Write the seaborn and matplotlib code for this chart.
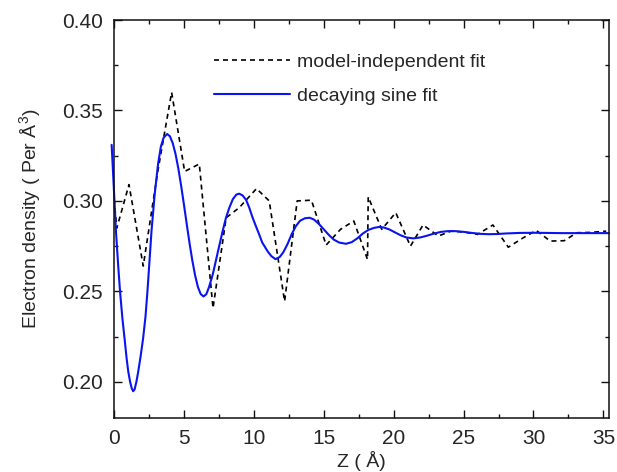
import numpy as np
import pandas as pd
import matplotlib
matplotlib.use("Agg")
import matplotlib.pyplot as plt
from matplotlib.ticker import MultipleLocator, FormatStrFormatter
import seaborn as sns

# model-independent fit (dashed)
z_mi = [0.0, 0.2, 1.07, 2.09, 3.1, 4.12, 5.05, 6.1, 7.08, 8.02, 8.96, 10.19,
        11.1, 12.2, 13.1, 14.12, 15.17, 16.2, 17.15, 18.13, 18.18, 19.15,
        20.15, 21.2, 22.1, 23.2, 24.1, 25.0, 26.0, 27.1, 28.2, 29.2, 30.2,
        31.2, 32.2, 33.1, 34.1, 35.2]
rho_mi = [0.301, 0.285, 0.309, 0.264, 0.315, 0.360, 0.3163, 0.3204, 0.2407,
          0.2907, 0.2963, 0.3068, 0.300, 0.2445, 0.300, 0.3004, 0.2756,
          0.2843, 0.2889, 0.2676, 0.3022, 0.2843, 0.2935, 0.275, 0.2867,
          0.2806, 0.2833, 0.2828, 0.2815, 0.2867, 0.2744, 0.2793, 0.2837,
          0.2778, 0.2780, 0.2824, 0.2826, 0.2833]

# decaying sine fit (solid blue)
z_ds = [-0.17, 0.0, 0.14, 0.3, 0.43, 0.6, 0.78, 0.9, 1.02, 1.15, 1.27, 1.37,
        1.47, 1.6, 1.73, 1.9, 2.08, 2.25, 2.39, 2.53, 2.68, 2.9, 3.15, 3.35,
        3.55, 3.8, 4.0, 4.2, 4.4, 4.6, 4.8, 5.0, 5.2, 5.4, 5.6, 5.8, 6.0,
        6.2, 6.4, 6.6, 6.8, 7.06, 7.3, 7.55, 7.77, 8.0, 8.25, 8.5, 8.75,
        8.96, 9.2, 9.45, 9.67, 9.9, 10.15, 10.38, 10.6, 10.8, 10.98, 11.25,
        11.55, 11.85, 12.1, 12.4, 12.7, 13.0, 13.3, 13.65, 13.99, 14.3,
        14.65, 15.0, 15.35, 15.7, 16.1, 16.59, 17.0, 17.4, 17.8, 18.2, 18.6,
        18.95, 19.3, 19.7, 20.1, 20.5, 20.9, 21.4, 21.9, 22.4, 22.9, 23.4,
        23.9, 24.4, 25.0, 25.6, 26.2, 26.8, 27.4, 28.0, 29.0, 30.0, 31.0,
        32.0, 33.0, 34.0, 35.4]
rho_ds = [0.331, 0.305, 0.283, 0.264, 0.250, 0.235, 0.222, 0.213, 0.2056,
          0.200, 0.1963, 0.1948, 0.1958, 0.200, 0.2056, 0.214, 0.224, 0.236,
          0.250, 0.266, 0.2833, 0.303, 0.3204, 0.330, 0.335, 0.337, 0.3357,
          0.3319, 0.3259, 0.3179, 0.3084, 0.298, 0.2872, 0.2767, 0.2671,
          0.2588, 0.2524, 0.2485, 0.2472, 0.2484, 0.2525, 0.2593, 0.2675,
          0.2760, 0.2833, 0.2905, 0.2963, 0.3010, 0.3035, 0.304, 0.3030,
          0.3005, 0.2963, 0.2910, 0.2860, 0.2815, 0.2770, 0.2745, 0.2722,
          0.2695, 0.2678, 0.2690, 0.2715, 0.2760, 0.2815, 0.2860, 0.2890,
          0.2904, 0.2907, 0.2897, 0.2873, 0.2843, 0.2813, 0.2787, 0.2770,
          0.2763, 0.2772, 0.2793, 0.2820, 0.2840, 0.2851, 0.2856, 0.2853,
          0.2842, 0.2826, 0.2810, 0.2798, 0.2793, 0.2798, 0.2808, 0.2820,
          0.2829, 0.2833, 0.2833, 0.2829, 0.2823, 0.2818, 0.2816, 0.2817,
          0.2820, 0.2823, 0.2824, 0.2823, 0.2822, 0.2822, 0.2822, 0.2822]

df_mi = pd.DataFrame({"z": z_mi, "rho": rho_mi})
df_ds = pd.DataFrame({"z": z_ds, "rho": rho_ds})

sns.set_style("ticks")
plt.rcParams['font.family'] = ['Liberation Sans', 'DejaVu Sans']
plt.rcParams['mathtext.fontset'] = 'custom'
plt.rcParams['mathtext.rm'] = 'Liberation Sans'

fig = plt.figure(figsize=(6.17, 4.72), dpi=100)
ax = fig.add_axes([0.1848, 0.1144, 0.8022, 0.8432])

sns.lineplot(data=df_mi, x="z", y="rho", ax=ax, color="black", lw=1.2,
             linestyle=(0, (3.0, 2.4)), label="model-independent fit",
             sort=False, estimator=None)
sns.lineplot(data=df_ds, x="z", y="rho", ax=ax, color="#0a14f0", lw=1.5,
             label="decaying sine fit", sort=False, estimator=None)
ax.lines[1].set_clip_on(False)

ax.set_xlim(0, 35.4)
ax.set_ylim(0.18, 0.40)
ax.xaxis.set_major_locator(MultipleLocator(5))
ax.xaxis.set_minor_locator(MultipleLocator(2.5))
ax.yaxis.set_major_locator(MultipleLocator(0.05))
ax.yaxis.set_minor_locator(MultipleLocator(0.025))
ax.yaxis.set_major_formatter(FormatStrFormatter('%.2f'))
ax.tick_params(which='both', direction='in', top=True, right=True,
               labelsize=15, width=1.0, color='#111111')
ax.tick_params(which='major', length=6, pad=8)
ax.tick_params(which='minor', length=3)
for s in ax.spines.values():
    s.set_linewidth(1.1)
    s.set_color('#111111')

ax.set_xlabel("Z ( Å)", fontsize=14, labelpad=2)
ax.set_ylabel("Electron density ( Per Å$^3$)", fontsize=14, labelpad=13)

ax.legend(loc='upper left', bbox_to_anchor=(0.166, 0.96), frameon=False,
          fontsize=14, handlelength=3.9, handletextpad=0.4, labelspacing=0.85)

fig.savefig("out.png", dpi=100)
